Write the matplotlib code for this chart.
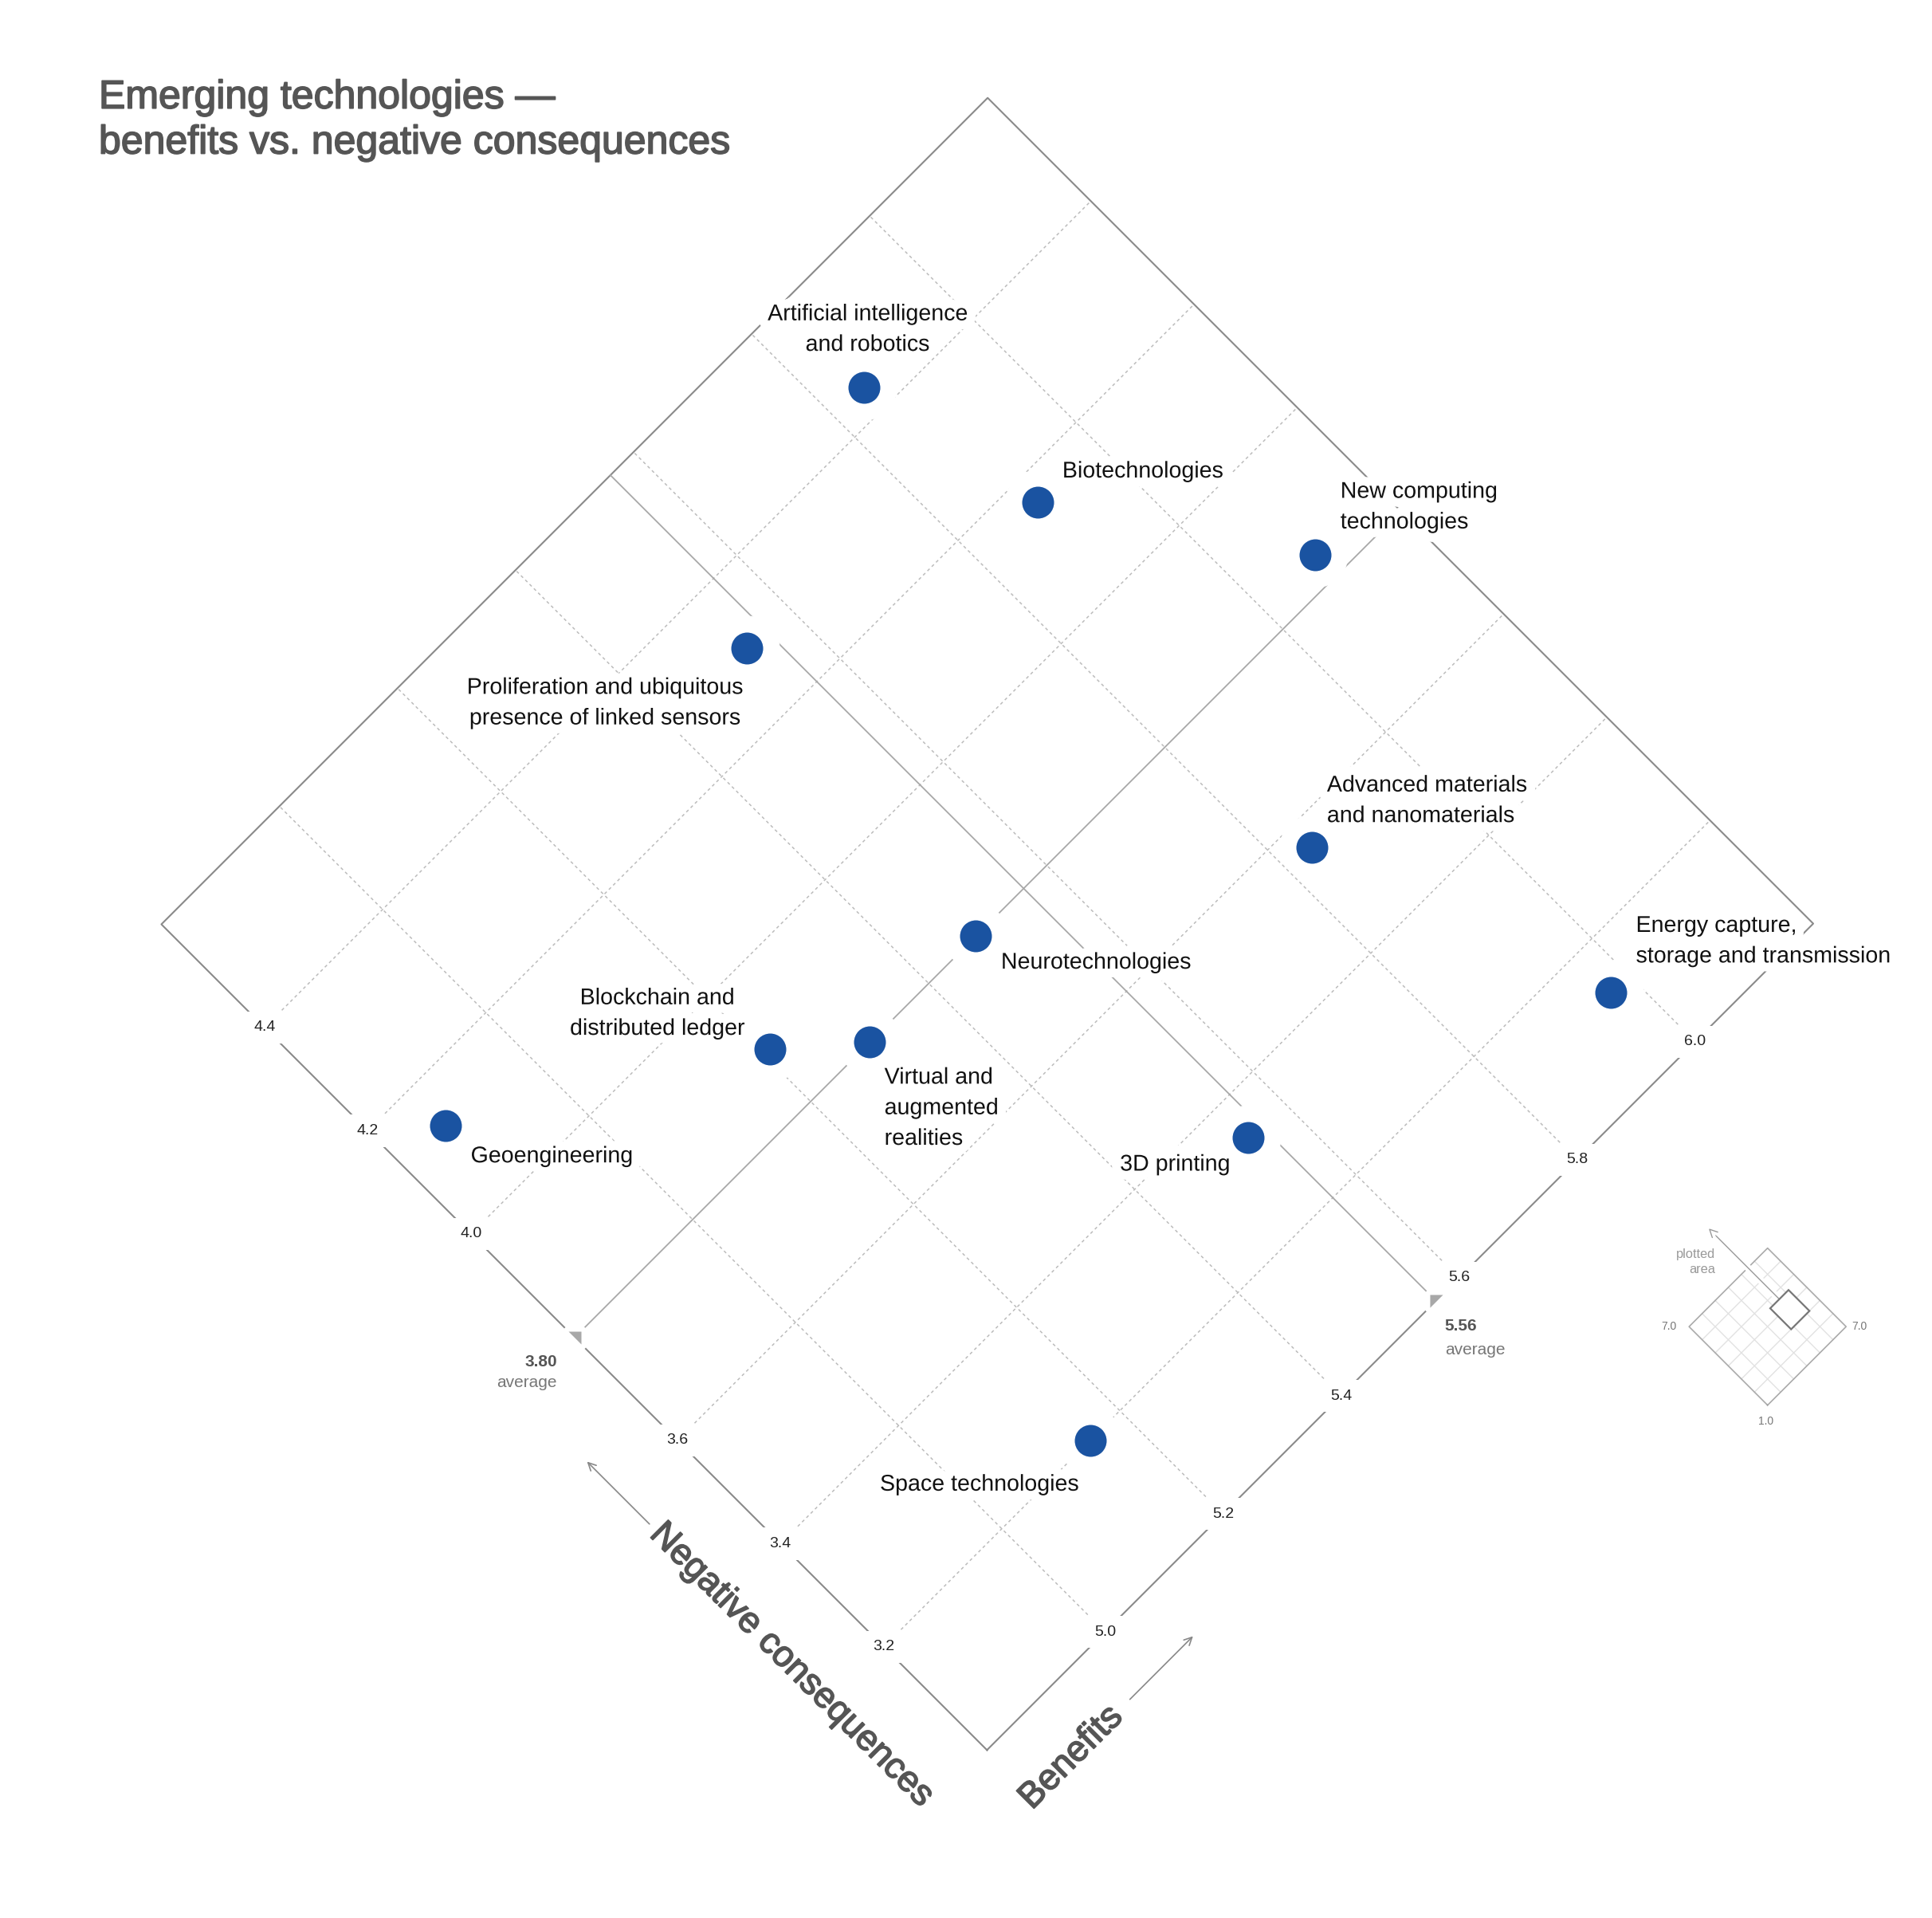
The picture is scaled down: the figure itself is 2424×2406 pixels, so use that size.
import numpy as np
import matplotlib
matplotlib.use("Agg")
import matplotlib.pyplot as plt
from matplotlib.transforms import Affine2D
from matplotlib.patches import Polygon
import matplotlib.patheffects as pe

plt.rcParams['font.family'] = ['Liberation Sans', 'DejaVu Sans']

# ---- data ----
techs = ["Artificial intelligence\nand robotics",
         "Biotechnologies",
         "New computing\ntechnologies",
         "Proliferation and ubiquitous\npresence of linked sensors",
         "Advanced materials\nand nanomaterials",
         "Energy capture,\nstorage and transmission",
         "Neurotechnologies",
         "Blockchain and\ndistributed ledger",
         "Virtual and\naugmented\nrealities",
         "Geoengineering",
         "3D printing",
         "Space technologies"]
benefits = [5.85, 5.90, 6.09, 5.53, 5.84, 5.97, 5.48, 5.21, 5.30, 4.87, 5.54, 5.15]
negative = [4.44, 4.16, 3.84, 4.30, 3.56, 3.13, 3.80, 3.89, 3.80, 4.13, 3.34, 3.20]

b_lim = (4.8, 6.2)
n_lim = (3.0, 4.6)
b_ticks = [5.0, 5.2, 5.4, 5.6, 5.8, 6.0]
n_ticks = [3.2, 3.4, 3.6, 4.0, 4.2, 4.4]
full_lim = (1.0, 7.0)
full_grid = [2, 3, 4, 5, 6]

b_avg = np.mean(benefits)
n_avg = np.mean(negative)

# label placement: alignment, dx, dy of first baseline (pixels, y down)
label_pos = [("center", 5, -85), ("left", 31, -32), ("left", 32, -73),
             ("center", -178, 56), ("left", 19, -71), ("left", 32, -77),
             ("left", 32, 40), ("center", -141, -57), ("left", 19, 51),
             ("left", 32, 45), ("right", -23, 40), ("right", -14, 62)]

W, H, DPI = 2424, 2406, 200
fig = plt.figure(figsize=(W / DPI, H / DPI), dpi=DPI)
ax = fig.add_axes([0, 0, 1, 1])
ax.set_xlim(0, W)
ax.set_ylim(H, 0)
ax.set_axis_off()


def diamond(b_lo, n_lo, kb, kn, x0, y0):
    # (benefit, negative) -> page pixels, the square turned by 45 degrees
    m = np.array([[kb, -kn, x0 - kb * b_lo + kn * n_lo],
                  [-kb, -kn, y0 + kb * b_lo + kn * n_lo],
                  [0, 0, 1]])
    return Affine2D(m) + ax.transData


tf = diamond(b_lim[0], n_lim[0], 740.5, 647.4, 1238.3, 2195.3)
tf_in = diamond(full_lim[0], full_lim[0], 16.42, 16.42, 2217.7, 1762.7)

# grid
for b in b_ticks:
    ax.plot([b, b], n_lim, transform=tf, color='#bcbcbc', lw=0.55,
            ls=(0, (2.5, 2.5)), zorder=1)
for n in n_ticks:
    ax.plot(b_lim, [n, n], transform=tf, color='#bcbcbc', lw=0.55,
            ls=(0, (2.5, 2.5)), zorder=1)

# frame
ax.plot([b_lim[0], b_lim[1], b_lim[1], b_lim[0], b_lim[0]],
        [n_lim[0], n_lim[0], n_lim[1], n_lim[1], n_lim[0]],
        transform=tf, color='#8a8a8a', lw=0.75, zorder=1.5)

# averages
ax.plot([b_avg, b_avg], n_lim, transform=tf, color='#a8a8a8', lw=0.65, zorder=1.5)
ax.plot(b_lim, [n_avg, n_avg], transform=tf, color='#a8a8a8', lw=0.65, zorder=1.5)
ax.plot([b_lim[0], b_avg], [n_avg, n_lim[0]], ls='none', marker='o', ms=13,
        mfc='white', mec='none', transform=tf, zorder=1.8)
ax.plot([b_lim[0]], [n_avg], ls='none', marker=[(-0.5, 0.5), (0.5, 0.5), (0.5, -0.5)],
        ms=5.8, mfc='#a8a8a8', mec='none', transform=tf, zorder=2)
ax.plot([b_avg], [n_lim[0]], ls='none', marker=[(-0.5, 0.5), (0.5, 0.5), (-0.5, -0.5)],
        ms=5.8, mfc='#a8a8a8', mec='none', transform=tf, zorder=2)

ax.annotate(f'{n_avg:.2f}', xy=(b_lim[0], n_avg), xycoords=tf, xytext=(-22, -36),
            textcoords='offset pixels', ha='right', va='baseline', fontsize=7.5,
            fontweight='bold', color='#555555')
ax.annotate('average', xy=(b_lim[0], n_avg), xycoords=tf, xytext=(-22, -62),
            textcoords='offset pixels', ha='right', va='baseline', fontsize=7.5,
            color='#777777')
ax.annotate(f'{b_avg:.2f}', xy=(b_avg, n_lim[0]), xycoords=tf, xytext=(11, -37),
            textcoords='offset pixels', ha='left', va='baseline', fontsize=7.5,
            fontweight='bold', color='#555555')
ax.annotate('average', xy=(b_avg, n_lim[0]), xycoords=tf, xytext=(11, -67),
            textcoords='offset pixels', ha='left', va='baseline', fontsize=7.5,
            color='#777777')

# tick labels sitting on the frame
tick_box = dict(boxstyle='square,pad=0.6', fc='white', ec='none')
for b in b_ticks:
    ax.text(b, n_lim[0], f'{b:.1f}', transform=tf, ha='center', va='center',
            fontsize=7, color='#222222', bbox=tick_box, zorder=2)
for n in n_ticks:
    ax.text(b_lim[0], n, f'{n:.1f}', transform=tf, ha='center', va='center',
            fontsize=7, color='#222222', bbox=tick_box, zorder=2)

# points
ax.plot(benefits, negative, ls='none', marker='o', ms=29.5, mfc='white',
        mec='none', transform=tf, zorder=3)
ax.plot(benefits, negative, ls='none', marker='o', ms=14.4, mfc='#1a53a1',
        mec='none', transform=tf, zorder=4)

fs_lab = 10.3
asc = 0.725 * fs_lab * DPI / 72
halo = [pe.withStroke(linewidth=8, foreground='white')]
for name, b, n, (ha, dx, dy) in zip(techs, benefits, negative, label_pos):
    ax.annotate(name, xy=(b, n), xycoords=tf, xytext=(dx, asc - dy),
                textcoords='offset pixels', ha=ha, va='top', fontsize=fs_lab,
                color='#111111', linespacing=1.47, path_effects=halo, zorder=5)

# axis titles and arrows
heavy = [pe.withStroke(linewidth=0.6, foreground='#555555')]
ax.text(4.706, 3.272, 'Negative consequences', transform=tf, rotation=-45,
        rotation_mode='anchor', ha='center', va='center', fontsize=16.3,
        color='#555555', path_effects=heavy)
ax.text(4.865, 2.9105, 'Benefits', transform=tf, rotation=45,
        rotation_mode='anchor', ha='center', va='center', fontsize=16.3,
        color='#555555', path_effects=heavy)
arr = dict(arrowstyle='->,head_length=0.5,head_width=0.25', color='#888888',
           lw=0.6, shrinkA=0, shrinkB=0, mutation_scale=7)
ax.annotate('', xy=(4.7055, 3.667), xytext=(4.7055, 3.546), xycoords=tf,
            textcoords=tf, arrowprops=arr)
ax.annotate('', xy=(5.071, 2.9106), xytext=(4.964, 2.9106), xycoords=tf,
            textcoords=tf, arrowprops=arr)

# title
fs_t = 18
ax.text(124, 136 - 0.725 * fs_t * DPI / 72,
        'Emerging technologies \u2014\nbenefits vs. negative consequences',
        ha='left', va='top', fontsize=fs_t, color='#555555', linespacing=1.3,
        path_effects=heavy)

# small locator diamond
for g in full_grid:
    ax.plot([g, g], full_lim, transform=tf_in, color='#e2e2e2', lw=0.5, zorder=1)
    ax.plot(full_lim, [g, g], transform=tf_in, color='#e2e2e2', lw=0.5, zorder=1)
ax.plot([full_lim[0], full_lim[1], full_lim[1], full_lim[0], full_lim[0]],
        [full_lim[0], full_lim[0], full_lim[1], full_lim[1], full_lim[0]],
        transform=tf_in, color='#aaaaaa', lw=0.6, zorder=1.5)
ax.annotate('', xy=(5.5, 10.0), xytext=(5.5, 4.65), xycoords=tf_in, textcoords=tf_in,
            arrowprops=dict(arrowstyle='->,head_length=0.5,head_width=0.25',
                            color='#999999', lw=0.5, shrinkA=0, shrinkB=0,
                            mutation_scale=7,
                            path_effects=[pe.withStroke(linewidth=3.2, foreground='white')]),
            zorder=2)
ax.add_patch(Polygon([(b_lim[0], n_lim[0]), (b_lim[1], n_lim[0]),
                      (b_lim[1], n_lim[1]), (b_lim[0], n_lim[1])],
                     closed=True, transform=tf_in, fc='white', ec='#777777',
                     lw=0.8, zorder=3))
ax.annotate('plotted\narea', xy=(5.5, 10.0), xycoords=tf_in, xytext=(8, -25),
            textcoords='offset pixels', ha='right', va='top', fontsize=5.9,
            color='#999999', linespacing=1.36)
ax.annotate(f'{full_lim[1]:.1f}', xy=(full_lim[0], full_lim[1]), xycoords=tf_in,
            xytext=(-25, 0), textcoords='offset pixels', ha='center', va='center',
            fontsize=5, color='#777777')
ax.annotate(f'{full_lim[1]:.1f}', xy=(full_lim[1], full_lim[0]), xycoords=tf_in,
            xytext=(17, 0), textcoords='offset pixels', ha='center', va='center',
            fontsize=5, color='#777777')
ax.annotate(f'{full_lim[0]:.1f}', xy=(full_lim[0], full_lim[0]), xycoords=tf_in,
            xytext=(-2, -20), textcoords='offset pixels', ha='center', va='center',
            fontsize=5, color='#777777')

fig.savefig('out.png', dpi=DPI, facecolor='white')
